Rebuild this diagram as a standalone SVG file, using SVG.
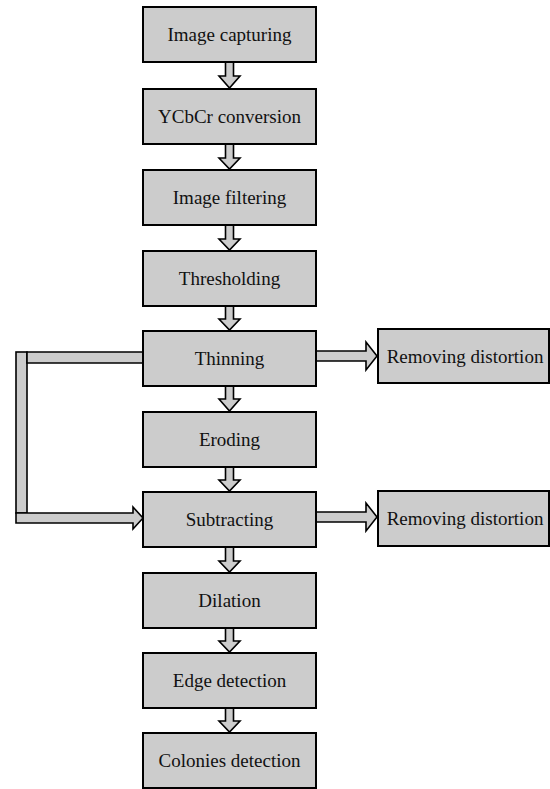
<svg xmlns="http://www.w3.org/2000/svg" width="550" height="789" viewBox="0 0 550 789">
<style>
.box{fill:#cccccc;stroke:#000;stroke-width:2}
.arr{fill:#cccccc;stroke:#000;stroke-width:1.6;stroke-linejoin:miter}
.t{font-family:'Liberation Serif','Times New Roman',Times,'DejaVu Serif',serif;font-size:19px;fill:#111;text-anchor:middle}
</style>
<rect width="550" height="789" fill="#fff"/>
<g id="connectors">
<polygon class="arr" points="225.5,62 233.5,62 233.5,76 240,76 229.5,88 219,76 225.5,76"/>
<polygon class="arr" points="225.5,144 233.5,144 233.5,158 240,158 229.5,169 219,158 225.5,158"/>
<polygon class="arr" points="225.5,225 233.5,225 233.5,239 240,239 229.5,250 219,239 225.5,239"/>
<polygon class="arr" points="225.5,306 233.5,306 233.5,319 240,319 229.5,330 219,319 225.5,319"/>
<polygon class="arr" points="225.5,386 233.5,386 233.5,399 240,399 229.5,411 219,399 225.5,399"/>
<polygon class="arr" points="225.5,467 233.5,467 233.5,480 240,480 229.5,491 219,480 225.5,480"/>
<polygon class="arr" points="225.5,547 233.5,547 233.5,561 240,561 229.5,572 219,561 225.5,561"/>
<polygon class="arr" points="225.5,628 233.5,628 233.5,641 240,641 229.5,652 219,641 225.5,641"/>
<polygon class="arr" points="225.5,708 233.5,708 233.5,721 240,721 229.5,732 219,721 225.5,721"/>
<polygon class="arr" points="316,351 366,351 366,342 377,356 366,370 366,361 316,361"/>
<polygon class="arr" points="316,512 366,512 366,503 377,517 366,531 366,522 316,522"/>
<rect class="arr" x="16" y="352" width="11" height="161"/>
<polygon class="arr" points="27,352 143,352 143,363 27,363"/>
<polygon class="arr" points="16,513 133,513 133,507 143,518 133,529 133,523 16,523"/>
</g>
<g id="n1"><rect class="box" x="143" y="7" width="173" height="55"/><text class="t" x="229.5" y="41" font-family="Liberation Serif, serif">Image capturing</text></g>
<g id="n2"><rect class="box" x="143" y="89" width="173" height="55"/><text class="t" x="229.5" y="123">YCbCr conversion</text></g>
<g id="n3"><rect class="box" x="143" y="170" width="173" height="55"/><text class="t" x="229.5" y="204">Image filtering</text></g>
<g id="n4"><rect class="box" x="143" y="251" width="173" height="55"/><text class="t" x="229.5" y="285">Thresholding</text></g>
<g id="n5"><rect class="box" x="143" y="331" width="173" height="55"/><text class="t" x="229.5" y="365">Thinning</text></g>
<g id="n6"><rect class="box" x="143" y="412" width="173" height="55"/><text class="t" x="229.5" y="446">Eroding</text></g>
<g id="n7"><rect class="box" x="143" y="492" width="173" height="55"/><text class="t" x="229.5" y="526">Subtracting</text></g>
<g id="n8"><rect class="box" x="143" y="573" width="173" height="55"/><text class="t" x="229.5" y="607">Dilation</text></g>
<g id="n9"><rect class="box" x="143" y="653" width="173" height="55"/><text class="t" x="229.5" y="687">Edge detection</text></g>
<g id="n10"><rect class="box" x="143" y="733" width="173" height="55"/><text class="t" x="229.5" y="767">Colonies detection</text></g>
<g id="r1"><rect class="box" x="378" y="329" width="171" height="54"/><text class="t" x="465" y="363">Removing distortion</text></g>
<g id="r2"><rect class="box" x="378" y="491" width="171" height="55"/><text class="t" x="465" y="525">Removing distortion</text></g>
</svg>
